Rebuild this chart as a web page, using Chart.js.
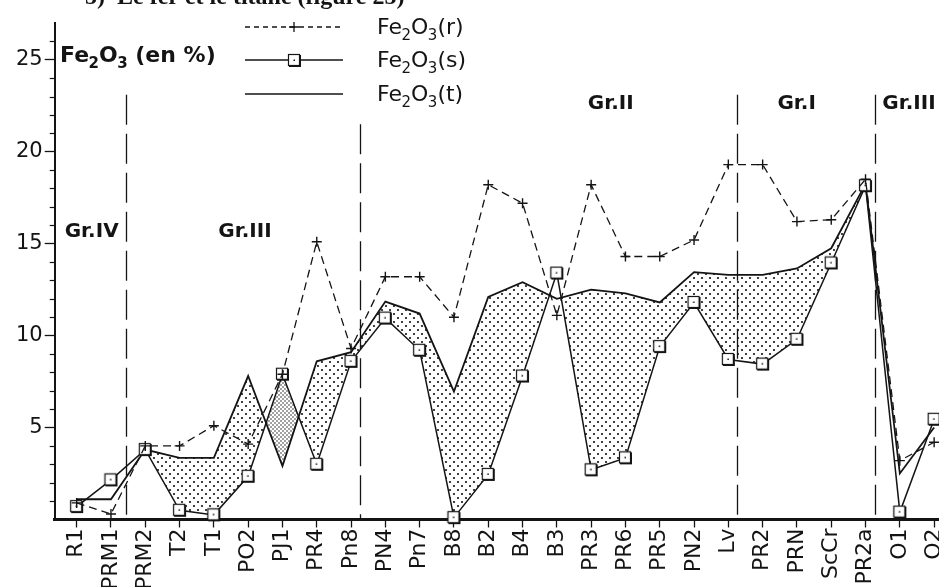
<!DOCTYPE html>
<html lang="fr">
<head>
<meta charset="UTF-8">
<title>Fe2O3 (en %)</title>
<script src="https://cdn.jsdelivr.net/npm/chart.js"></script>
<style>
  html, body { margin: 0; padding: 0; background: #fff; overflow: hidden; }
  #wrap { position: relative; width: 939px; height: 587px; overflow: hidden; background: #fff; }
  canvas { position: absolute; left: 0; top: 0; }
</style>
</head>
<body>
<div id="wrap"><canvas id="chart" width="990" height="630"></canvas></div>
<script>
// samples along the x axis
const samples = ['R1', 'PRM1', 'PRM2', 'T2', 'T1', 'PO2', 'PJ1', 'PR4', 'Pn8', 'PN4', 'Pn7', 'B8', 'B2', 'B4', 'B3',
                 'PR3', 'PR6', 'PR5', 'PN2', 'Lv', 'PR2', 'PRN', 'ScCr', 'PR2a', 'O1', 'O2'];
// Fe2O3 (en %) for each sample
const fe2o3_r = [0.9, 0.3, 4.0, 4.0, 5.1, 4.1, 7.9, 15.1, 9.3, 13.2, 13.2, 11.0, 18.2, 17.2, 11.1,
                 18.2, 14.3, 14.3, 15.2, 19.3, 19.3, 16.2, 16.3, 18.5, 3.2, 4.2];
const fe2o3_s = [0.7, 2.15, 3.8, 0.5, 0.25, 2.35, 7.9, 3.0, 8.6, 10.95, 9.2, 0.1, 2.45, 7.8, 13.4,
                 2.7, 3.35, 9.4, 11.8, 8.7, 8.45, 9.8, 13.95, 18.15, 0.4, 5.45];
const fe2o3_t = [1.1, 1.1, 3.8, 3.35, 3.35, 7.8, 2.9, 8.6, 9.1, 11.85, 11.2, 6.95, 12.1, 12.9, 12.0,
                 12.5, 12.3, 11.8, 13.45, 13.3, 13.3, 13.65, 14.75, 18.25, 2.5, 5.0];
const yTicks = [5, 10, 15, 20, 25];
const seriesNames = ['Fe2O3(r)', 'Fe2O3(s)', 'Fe2O3(t)'];
const groupNames = ['Gr.IV', 'Gr.III', 'Gr.II', 'Gr.I', 'Gr.III'];
const groupBreaks = [1.43, 8.27, 19.25, 23.28];   // x value of dashed separators
const stippleRange = [2, 23];   // PRM2 .. PR2a shaded between (t) and (s)
const denseRange = [5, 7];      // PO2 .. PR4

const INK = '#141414';
Chart.defaults.font.family = '"DejaVu Sans", Arial, sans-serif';
Chart.defaults.color = INK;

function dotPattern(size, dots, r) {
  const c = document.createElement('canvas');
  c.width = c.height = size;
  const g = c.getContext('2d');
  g.fillStyle = INK;
  dots.forEach(([x, y]) => { g.beginPath(); g.arc(x, y, r, 0, Math.PI * 2); g.fill(); });
  return g.createPattern(c, 'repeat');
}
const sparseDots = dotPattern(8, [[2, 2], [6, 6]], 1.1);
const denseDots = dotPattern(4, [[1, 1], [3, 3]], 0.75);

function squareMarker() {
  const c = document.createElement('canvas');
  c.width = c.height = 15;
  const g = c.getContext('2d');
  g.fillStyle = '#fff';
  g.fillRect(1, 1, 12, 12);
  g.strokeStyle = INK;
  g.lineWidth = 1.2;
  g.strokeRect(1.5, 1.5, 11, 11);
  g.fillStyle = INK;
  g.fillRect(2, 12, 12, 2);
  g.fillRect(12, 2, 2, 12);
  g.fillRect(6.5, 6.5, 1.5, 1.5);
  return c;
}
const square = squareMarker();

const pts = arr => arr.map((v, i) => ({ x: i, y: v }));
const band = (arr, [a, b]) => arr.map((v, i) => ({ x: i, y: i >= a && i <= b ? v : null }));

// draws "Fe2O3" style strings with digits as subscripts
function chemText(g, str, x, y, size, bold) {
  str.split(/(\d)/).forEach(part => {
    if (!part) return;
    const sub = /^\d$/.test(part);
    g.font = (bold ? 'bold ' : '') + (sub ? Math.round(size * 0.7) : size) + 'px "DejaVu Sans"';
    g.fillText(part, x, sub ? y + size * 0.25 : y);
    x += g.measureText(part).width + (sub ? 0 : -0.5);
  });
}

const overlay = {
  id: 'overlay',
  beforeDatasetsDraw(chart) {
    const g = chart.ctx, xs = chart.scales.x, ys = chart.scales.y;
    g.save();
    g.strokeStyle = INK;
    g.lineWidth = 1.3;
    g.setLineDash([30, 9]);
    groupBreaks.forEach((b, i) => {
      const px = Math.round(xs.getPixelForValue(b)) + 0.5;
      g.beginPath();
      g.moveTo(px, ys.getPixelForValue(i === 1 ? 21.5 : 23.1));
      g.lineTo(px, ys.getPixelForValue(0));
      g.stroke();
    });
    g.restore();
  },
  afterDraw(chart) {
    const g = chart.ctx, xs = chart.scales.x, ys = chart.scales.y;
    g.save();
    g.fillStyle = INK;
    g.strokeStyle = INK;

    // minor ticks on the value axis
    g.lineWidth = 1.2;
    for (let v = 1; v <= 26; v++) {
      if (v % 5 === 0) continue;
      const py = Math.round(ys.getPixelForValue(v)) + 0.5;
      g.beginPath();
      g.moveTo(xs.left - 5, py);
      g.lineTo(xs.left, py);
      g.stroke();
    }

    // group labels
    g.font = 'bold 20px "DejaVu Sans"';
    g.textBaseline = 'alphabetic';
    const groupPos = [[-0.35, 15.38], [4.13, 15.38], [14.9, 22.3], [20.43, 22.3], [23.49, 22.3]];
    groupNames.forEach((t, i) => {
      g.fillText(t, xs.getPixelForValue(groupPos[i][0]), ys.getPixelForValue(groupPos[i][1]));
    });

    // axis title
    chemText(g, 'Fe2O3 (en %)', 60, 62, 22, true);

    // legend
    const lx0 = 245, lx1 = 343, lxm = 294, tx = 377;
    const rows = [27, 60, 94];
    g.lineWidth = 1.3;
    g.setLineDash([5, 4]);
    g.beginPath(); g.moveTo(lx0, rows[0]); g.lineTo(lx1, rows[0]); g.stroke();
    g.setLineDash([]);
    g.beginPath();
    g.moveTo(lxm - 5, rows[0]); g.lineTo(lxm + 5, rows[0]);
    g.moveTo(lxm, rows[0] - 5); g.lineTo(lxm, rows[0] + 5);
    g.stroke();
    g.lineWidth = 1.5;
    g.beginPath(); g.moveTo(lx0, rows[1]); g.lineTo(lx1, rows[1]); g.stroke();
    g.drawImage(square, lxm - 7, rows[1] - 7);
    g.lineWidth = 1.6;
    g.beginPath(); g.moveTo(lx0, rows[2]); g.lineTo(lx1, rows[2]); g.stroke();
    seriesNames.forEach((n, i) => chemText(g, n, tx, rows[i] + 7, 22, false));

    // cropped heading of the page
    g.font = 'bold 24px "Liberation Serif"';
    g.fillText('5)  Le fer et le titane (figure 25)', 85, 4);
    g.restore();
  }
};

new Chart(document.getElementById('chart'), {
  type: 'line',
  data: {
    datasets: [
      { label: seriesNames[0], data: pts(fe2o3_r), borderColor: INK, borderWidth: 1.3, borderDash: [8, 5],
        pointStyle: 'cross', pointRadius: 5, pointBorderWidth: 1.4, pointBorderColor: INK, fill: false, clip: false },
      { label: seriesNames[1], data: pts(fe2o3_s), borderColor: INK, borderWidth: 1.5,
        pointStyle: square, pointRadius: 7, fill: false, clip: false },
      { label: seriesNames[2], data: pts(fe2o3_t), borderColor: INK, borderWidth: 1.8, pointRadius: 0, fill: false },
      { label: 'stipple', data: band(fe2o3_t, stippleRange), borderWidth: 0, pointRadius: 0,
        fill: { target: 1, above: sparseDots, below: 'rgba(0,0,0,0)' } },
      { label: 'dense', data: band(fe2o3_s, denseRange), borderWidth: 0, pointRadius: 0,
        fill: { target: 2, above: denseDots, below: 'rgba(0,0,0,0)' } }
    ]
  },
  options: {
    responsive: false,
    animation: false,
    events: [],
    layout: { padding: { left: 14, right: 25, top: 23, bottom: 39 } },
    plugins: { legend: { display: false }, tooltip: { enabled: false } },
    scales: {
      x: {
        type: 'linear', min: -0.64, max: 25.9,
        afterBuildTicks: a => { a.ticks = samples.map((_, i) => ({ value: i })); },
        ticks: { autoSkip: false, minRotation: 90, maxRotation: 90, padding: 1,
                 font: { size: 22 }, color: INK, callback: v => samples[v] },
        grid: { drawOnChartArea: false, tickLength: 8, tickWidth: 1.3, color: INK },
        border: { color: INK, width: 3 }
      },
      y: {
        min: 0, max: 27,
        afterBuildTicks: a => { a.ticks = yTicks.map(v => ({ value: v })); },
        ticks: { padding: 2, font: { size: 21 }, color: INK },
        grid: { drawOnChartArea: false, tickLength: 10, tickWidth: 1.3, color: INK },
        border: { color: INK, width: 2 }
      }
    }
  },
  plugins: [overlay]
});
</script>
</body>
</html>
